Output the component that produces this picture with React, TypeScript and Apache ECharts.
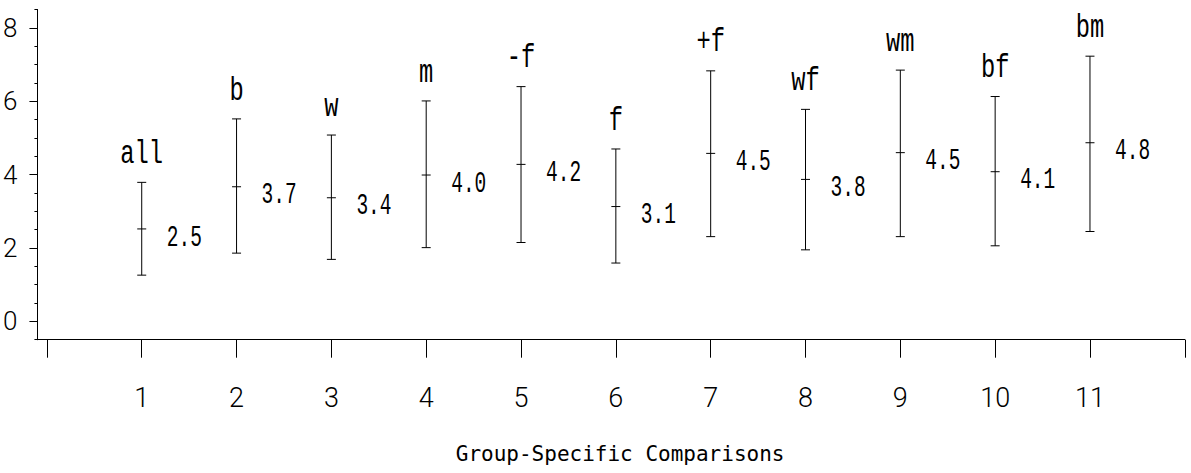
import React, { useEffect, useRef } from "react";
import * as echarts from "echarts";

// ---- data ----
const groups = ["all", "b", "w", "m", "-f", "f", "+f", "wf", "wm", "bf", "bm"];
const positions = [1, 2, 3, 4, 5, 6, 7, 8, 9, 10, 11];
const means = [2.52, 3.67, 3.37, 3.99, 4.28, 3.13, 4.58, 3.87, 4.6, 4.08, 4.87];
const lows = [1.26, 1.86, 1.69, 2.01, 2.15, 1.59, 2.31, 1.95, 2.31, 2.06, 2.45];
const highs = [3.79, 5.52, 5.08, 6.01, 6.4, 4.7, 6.83, 5.78, 6.85, 6.13, 7.23];
const meanLabels = ["2.5", "3.7", "3.4", "4.0", "4.2", "3.1", "4.5", "3.8", "4.5", "4.1", "4.8"];
const xTickValues = [0, 1, 2, 3, 4, 5, 6, 7, 8, 9, 10, 11, 12];
const xTickLabels = [1, 2, 3, 4, 5, 6, 7, 8, 9, 10, 11];
const yTickLabels = [0, 2, 4, 6, 8];
const xTitle = "Group-Specific Comparisons";

const MONO = '"Liberation Mono", "DejaVu Sans Mono", monospace';
const TICKFONT = 'Roboto, "Noto Sans", sans-serif';

export default function App() {
  const ref = useRef<HTMLDivElement>(null);

  useEffect(() => {
    if (!ref.current) return;
    const chart = echarts.init(ref.current, null, { renderer: "svg" });
    const data = positions.map((p, i) => [p, lows[i], highs[i], means[i]]);
    const ls = { stroke: "#000", lineWidth: 1 };

    const option: any = {
      animation: false,
      backgroundColor: "#fff",
      grid: { left: 37.4, right: 6.2, top: 9.6, bottom: 133.3, containLabel: false },
      xAxis: {
        type: "value",
        min: -0.1,
        max: 12,
        splitLine: { show: false },
        axisLine: { onZero: false, lineStyle: { color: "#000", width: 1 } },
        axisTick: { show: true, inside: false, length: 18, customValues: xTickValues, lineStyle: { color: "#000" } },
        axisLabel: {
          customValues: xTickLabels,
          margin: 45,
          color: "#000",
          fontFamily: TICKFONT,
          fontWeight: 300,
          fontSize: 27,
        },
        name: xTitle,
        nameLocation: "middle",
        nameGap: 104,
        nameTextStyle: { fontFamily: '"DejaVu Sans Mono", monospace', fontSize: 21, color: "#000", padding: [0, 0, 0, 18] },
      },
      yAxis: [
        {
          type: "value",
          min: -0.5,
          max: 8.5,
          position: "left",
          splitLine: { show: false },
          axisLine: { show: true, onZero: false, lineStyle: { color: "#000", width: 1 } },
          axisTick: { show: true, length: 8, customValues: yTickLabels, lineStyle: { color: "#000" } },
          axisLabel: {
            customValues: yTickLabels,
            margin: 20,
            color: "#000",
            fontFamily: TICKFONT,
            fontWeight: 300,
            fontSize: 26,
          },
        },
        {
          type: "value",
          min: -0.5,
          max: 8.5,
          interval: 0.5,
          position: "left",
          splitLine: { show: false },
          axisLine: { show: true, onZero: false, lineStyle: { color: "#000", width: 1 } },
          axisTick: { show: true, length: 3, lineStyle: { color: "#000" } },
          axisLabel: { show: false },
        },
      ],
      series: [
        {
          type: "custom",
          xAxisIndex: 0,
          yAxisIndex: 0,
          clip: false,
          silent: true,
          encode: { x: 0, y: [1, 2, 3] },
          data,
          renderItem: (params: any, api: any) => {
            const x = api.value(0);
            const lo = api.coord([x, api.value(1)]);
            const hi = api.coord([x, api.value(2)]);
            const mid = api.coord([x, api.value(3)]);
            const idx = params.dataIndex;
            const cx = lo[0];
            const hw = 4.5;
            return {
              type: "group",
              children: [
                { type: "line", shape: { x1: cx, y1: lo[1], x2: cx, y2: hi[1] }, style: ls },
                { type: "line", shape: { x1: cx - hw, y1: hi[1], x2: cx + hw, y2: hi[1] }, style: ls },
                { type: "line", shape: { x1: cx - hw, y1: lo[1], x2: cx + hw, y2: lo[1] }, style: ls },
                { type: "line", shape: { x1: cx - hw, y1: mid[1], x2: cx + hw, y2: mid[1] }, style: ls },
                {
                  type: "text",
                  x: cx + 25,
                  y: mid[1] + 9,
                  scaleX: 0.65,
                  style: {
                    text: meanLabels[idx],
                    font: `30px ${MONO}`,
                    fill: "#000",
                    align: "left",
                    verticalAlign: "middle",
                  },
                },
                {
                  type: "text",
                  x: cx,
                  y: hi[1] - 28,
                  scaleX: 0.72,
                  style: {
                    text: groups[idx],
                    font: `33px ${MONO}`,
                    fill: "#000",
                    align: "center",
                    verticalAlign: "middle",
                  },
                },
              ],
            };
          },
        },
      ],
    };

    chart.setOption(option);
    return () => chart.dispose();
  }, []);

  return (
    <div
      ref={ref}
      style={{ position: "fixed", left: 0, top: 0, width: 1191, height: 473, background: "#fff" }}
    />
  );
}
